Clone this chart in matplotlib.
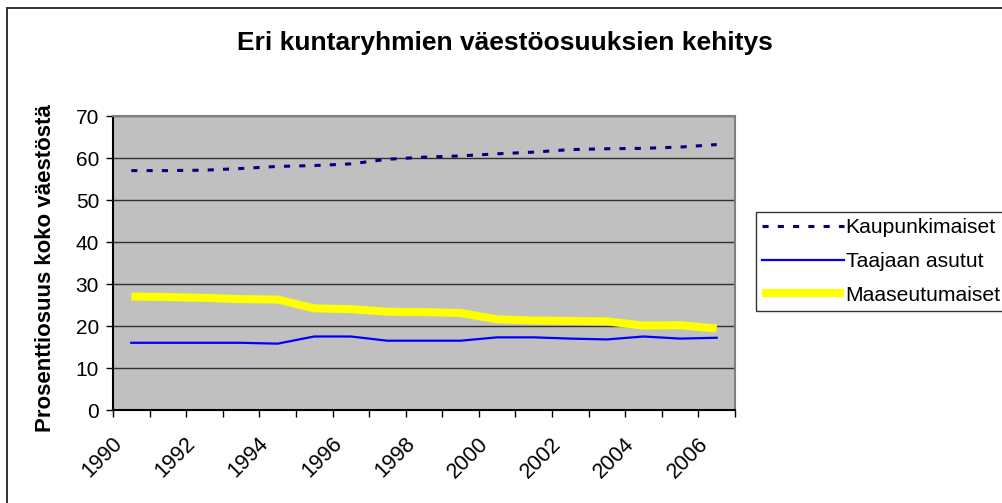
"""
Eri kuntaryhmien väestöosuuksien kehitys 1990-2006.
"""

import matplotlib
matplotlib.use("Agg")
import matplotlib.pyplot as plt
from matplotlib.patches import Rectangle


YEARS = list(range(1990, 2007))

KAUPUNKIMAISET = [57.0, 57.0, 57.1, 57.5, 58.0, 58.2, 58.6, 59.7, 60.2,
                  60.5, 61.0, 61.4, 62.0, 62.2, 62.3, 62.6, 63.2]
TAAJAAN_ASUTUT = [16.0, 16.0, 16.0, 16.0, 15.8, 17.5, 17.5, 16.5, 16.5,
                  16.5, 17.3, 17.3, 17.0, 16.8, 17.5, 17.0, 17.2]
MAASEUTUMAISET = [27.0, 26.9, 26.7, 26.4, 26.3, 24.2, 24.0, 23.4, 23.3,
                  23.1, 21.6, 21.3, 21.2, 21.1, 20.1, 20.2, 19.4]

LABEL_YEARS = YEARS[::2]


def main():
    plt.rcParams["font.family"] = ["Liberation Sans", "DejaVu Sans"]

    fig = plt.figure(figsize=(10.03, 5.03), dpi=100)
    ax = fig.add_axes([113 / 1003, 93 / 503, 622 / 1003, 294 / 503])

    # kehys koko kaavion ympärille
    fig.add_artist(Rectangle((7 / 1003, -0.2), 1.2, 1.2 - 8 / 503,
                             transform=fig.transFigure, fill=False,
                             edgecolor="#202020", linewidth=1.3))

    ax.set_facecolor("#C0C0C0")

    ax.plot(YEARS, KAUPUNKIMAISET, color="#000080", linewidth=2.2,
            linestyle=(0, (2, 3)), label="Kaupunkimaiset")
    ax.plot(YEARS, TAAJAAN_ASUTUT, color="#0000FF", linewidth=1.6,
            label="Taajaan asutut")
    ax.plot(YEARS, MAASEUTUMAISET, color="#FFFF00", linewidth=5.8,
            solid_capstyle="butt", label="Maaseutumaiset")

    ax.set_xlim(YEARS[0] - 0.5, YEARS[-1] + 0.5)
    ax.set_ylim(0, 70)
    ax.set_yticks(range(0, 71, 10))
    ax.yaxis.grid(True, color="#303030", linewidth=1.0)
    ax.set_axisbelow(True)

    # x-akselin jakoviivat kategorioiden rajoilla, tekstit keskellä
    ax.set_xticks([y - 0.5 for y in YEARS] + [YEARS[-1] + 0.5])
    ax.set_xticklabels([])
    ax.set_xticks([y - 0.33 for y in LABEL_YEARS], minor=True)
    ax.set_xticklabels([str(y) for y in LABEL_YEARS], minor=True,
                       rotation=45, ha="right", va="center",
                       rotation_mode="anchor", fontsize=15.5)
    ax.tick_params(axis="x", which="major", length=5, width=1, color="black")
    ax.tick_params(axis="x", which="minor", length=0, pad=22)
    ax.tick_params(axis="y", length=5, width=1, labelsize=15, pad=5)

    for side in ("top", "right"):
        ax.spines[side].set_color("#808080")
        ax.spines[side].set_linewidth(1.5)
    for side in ("left", "bottom"):
        ax.spines[side].set_color("black")
        ax.spines[side].set_linewidth(1.5)

    fig.text(505 / 1003, 1 - 43 / 503, "Eri kuntaryhmien väestöosuuksien kehitys",
             ha="center", va="center", fontsize=19, fontweight="bold")
    fig.text(46 / 1003, 1 - 268 / 503, "Prosenttiosuus koko väestöstä",
             ha="center", va="center", rotation=90, fontsize=16,
             fontweight="bold")

    leg = ax.legend(loc="upper left", bbox_to_anchor=(756 / 1003, 1 - 212 / 503),
                    bbox_transform=fig.transFigure, fontsize=15.2,
                    frameon=True, fancybox=False, borderpad=0.3,
                    handlelength=3.85, handletextpad=0.1, labelspacing=0.7,
                    borderaxespad=0)
    leg.get_frame().set_edgecolor("black")
    leg.get_frame().set_linewidth(1.0)

    fig.savefig("out.png", dpi=100)
    plt.close(fig)


if __name__ == "__main__":
    main()
